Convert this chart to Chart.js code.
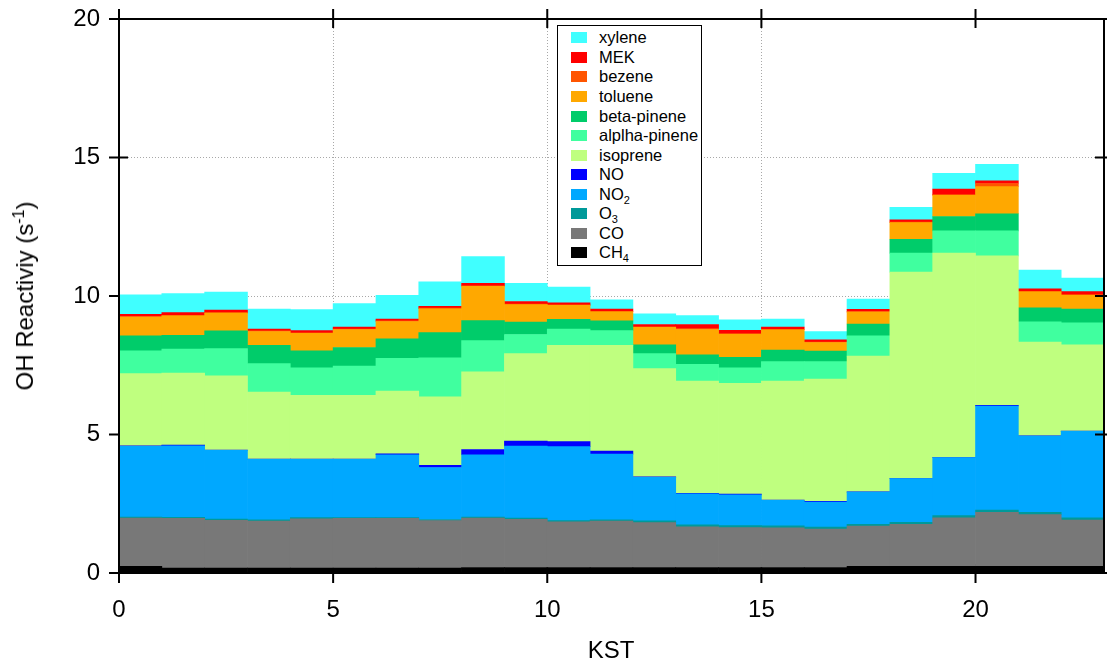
<!DOCTYPE html>
<html><head><meta charset="utf-8">
<script src="https://cdn.jsdelivr.net/npm/chart.js@4.4.1/dist/chart.umd.min.js"></script>
<style>
html,body{margin:0;padding:0;background:#fff;}
#wrap{position:relative;width:1107px;height:665px;font-family:"Liberation Sans",Arial,sans-serif;color:#000;overflow:hidden;}
#c{position:absolute;left:0;top:0;}
#legend{position:absolute;left:557px;top:25px;width:145px;height:241px;border:1px solid #000;background:#fff;box-sizing:border-box;}
.row{position:absolute;left:0;height:20px;font-size:16.5px;line-height:20px;white-space:nowrap;}
.sw{position:absolute;left:13px;top:5px;width:16px;height:11px;}
.lb{position:absolute;left:41px;top:0;}
sub{font-size:11px;vertical-align:-4px;line-height:0;}
sup{font-size:16px;vertical-align:9px;line-height:0;}
#ytitle{position:absolute;left:25px;top:296px;transform:translate(-50%,-50%) rotate(-90deg);font-size:24px;white-space:nowrap;}
#xtitle{position:absolute;left:611px;top:650px;transform:translate(-50%,-50%);font-size:24px;white-space:nowrap;}
</style>
</head><body>
<div id="wrap">
<canvas id="c" width="1107" height="665"></canvas>
<div id="legend"></div>
<div id="ytitle">OH Reactiviy (s<sup>-1</sup>)</div>
<div id="xtitle">KST</div>
</div>
<script>
// ---- data ----
const hours = [0,1,2,3,4,5,6,7,8,9,10,11,12,13,14,15,16,17,18,19,20,21,22];
const xTickValues = [0,5,10,15,20];
const yTickValues = [0,5,10,15,20];

const CH4      = [0.24,0.18,0.18,0.18,0.18,0.18,0.18,0.18,0.20,0.20,0.20,0.20,0.20,0.20,0.20,0.20,0.20,0.24,0.24,0.24,0.24,0.24,0.24];
const CO       = [1.74,1.79,1.72,1.69,1.78,1.79,1.79,1.71,1.78,1.74,1.65,1.67,1.62,1.47,1.44,1.43,1.39,1.45,1.52,1.75,1.95,1.87,1.67];
const O3       = [0.04,0.04,0.05,0.05,0.04,0.03,0.03,0.04,0.04,0.04,0.04,0.05,0.06,0.07,0.07,0.07,0.07,0.07,0.07,0.08,0.08,0.08,0.08];
const NO2      = [2.55,2.58,2.48,2.18,2.10,2.10,2.27,1.88,2.25,2.60,2.67,2.37,1.57,1.12,1.11,0.92,0.90,1.16,1.58,2.10,3.76,2.75,3.12];
const NO       = [0.02,0.03,0.01,0.01,0.01,0.01,0.03,0.08,0.19,0.18,0.18,0.11,0.02,0.02,0.03,0.01,0.03,0.01,0.01,0.01,0.02,0.01,0.01];
const isoprene = [2.61,2.60,2.68,2.42,2.30,2.30,2.27,2.47,2.80,3.16,3.48,3.82,3.91,4.05,4.00,4.30,4.41,4.90,7.44,7.37,5.40,3.39,3.12];
const alphaPinene = [0.82,0.86,0.98,1.03,1.00,1.06,1.18,1.41,1.13,0.69,0.59,0.53,0.54,0.60,0.56,0.70,0.63,0.73,0.69,0.80,0.90,0.73,0.79];
const betaPinene  = [0.54,0.50,0.64,0.66,0.61,0.67,0.70,0.91,0.72,0.45,0.35,0.35,0.32,0.35,0.38,0.42,0.38,0.43,0.50,0.52,0.62,0.50,0.50];
const toluene  = [0.68,0.70,0.64,0.50,0.63,0.65,0.63,0.86,1.24,0.63,0.50,0.33,0.63,0.91,0.83,0.73,0.31,0.43,0.60,0.76,0.98,0.58,0.49];
const bezene   = [0.02,0.02,0.02,0.02,0.02,0.02,0.02,0.02,0.02,0.02,0.02,0.02,0.02,0.03,0.02,0.02,0.02,0.02,0.02,0.03,0.11,0.02,0.03];
const MEK      = [0.08,0.10,0.09,0.07,0.08,0.07,0.07,0.07,0.09,0.09,0.07,0.08,0.08,0.15,0.12,0.08,0.08,0.08,0.08,0.20,0.10,0.09,0.11];
const xylene   = [0.70,0.69,0.65,0.72,0.76,0.85,0.85,0.88,0.96,0.66,0.57,0.33,0.39,0.32,0.38,0.29,0.30,0.37,0.45,0.57,0.59,0.68,0.49];

// bottom-to-top stacking order
const seriesNames  = ['CH4','CO','O3','NO2','NO','isoprene','alplha-pinene','beta-pinene','toluene','bezene','MEK','xylene'];
const seriesValues = [CH4, CO, O3, NO2, NO, isoprene, alphaPinene, betaPinene, toluene, bezene, MEK, xylene];
const seriesColors = ['#000000','#787878','#009999','#00A8FF','#0000FF','#BFFF7F','#40FF9F','#00CC6A','#FFA800','#FF5500','#FF0000','#40FFFF'];

const FONT = '"Liberation Sans", Arial, sans-serif';

const framePlugin = {
  id: 'frame',
  beforeDatasetsDraw(chart) {
    const {ctx, chartArea: a, scales: {x, y}} = chart;
    ctx.save();
    ctx.strokeStyle = '#000'; ctx.lineWidth = 2;
    ctx.beginPath();
    yTickValues.forEach(v => { const p = y.getPixelForValue(v); ctx.moveTo(a.left, p); ctx.lineTo(a.left + 9, p); });
    xTickValues.forEach(v => { const p = x.getPixelForValue(v); ctx.moveTo(p, a.bottom); ctx.lineTo(p, a.bottom - 9); });
    ctx.stroke();
    ctx.restore();
  },
  afterDatasetsDraw(chart) {
    const {ctx, chartArea: a, scales: {x, y}} = chart;
    ctx.save();
    ctx.strokeStyle = '#000'; ctx.lineWidth = 2;
    ctx.strokeRect(a.left, a.top, a.right - a.left, a.bottom - a.top);
    ctx.beginPath();
    yTickValues.forEach(v => {
      const p = y.getPixelForValue(v);
      ctx.moveTo(a.left - 10, p); ctx.lineTo(a.left, p);
      ctx.moveTo(a.right - 9, p); ctx.lineTo(a.right + 4, p);
    });
    xTickValues.forEach(v => {
      const p = x.getPixelForValue(v);
      ctx.moveTo(p, a.bottom); ctx.lineTo(p, a.bottom + 10);
      ctx.moveTo(p, a.top - 10); ctx.lineTo(p, a.top + 9);
    });
    ctx.stroke();
    ctx.restore();
  }
};

const gridColor = ctx => (ctx.tick && (ctx.tick.value === 0 || ctx.tick.value === 20)) ? 'rgba(0,0,0,0)' : '#a8a8a8';
const zeroPad = s => { s.paddingTop = 0; s.paddingBottom = 0; s.paddingLeft = 0; s.paddingRight = 0; };

const chart = new Chart(document.getElementById('c'), {
  type: 'bar',
  data: {
    labels: hours.map(h => h + 0.5),
    datasets: seriesNames.map((n, i) => ({
      label: n,
      data: seriesValues[i],
      backgroundColor: seriesColors[i],
      borderWidth: 0,
      barPercentage: 1,
      categoryPercentage: 1,
      stack: 's'
    }))
  },
  options: {
    responsive: false,
    animation: false,
    layout: {padding: {left: 0, right: 3, top: 19, bottom: 0}},
    plugins: {legend: {display: false}, tooltip: {enabled: false}},
    scales: {
      x: {
        type: 'linear', stacked: true, min: 0, max: 23, offset: false,
        afterBuildTicks: s => { s.ticks = xTickValues.map(v => ({value: v})); },
        afterFit: s => { s.height = 92; zeroPad(s); },
        grid: {offset: false, drawTicks: false, color: gridColor, lineWidth: 1},
        border: {display: false, dash: [1, 2]},
        ticks: {padding: 23, color: '#000', font: {family: FONT, size: 24}, autoSkip: false, maxRotation: 0}
      },
      y: {
        stacked: true, min: 0, max: 20,
        afterBuildTicks: s => { s.ticks = yTickValues.map(v => ({value: v})); },
        afterFit: s => { s.width = 119; zeroPad(s); },
        grid: {drawTicks: false, color: gridColor, lineWidth: 1},
        border: {display: false, dash: [1, 2]},
        ticks: {padding: 19, color: '#000', font: {family: FONT, size: 24}}
      }
    }
  },
  plugins: [framePlugin]
});

// HTML legend (top-to-bottom = reverse of stacking order)
const legend = document.getElementById('legend');
const fmt = s => s.replace(/(\d)/g, '<sub>$1</sub>');
chart.data.datasets.slice().reverse().forEach((ds, i) => {
  const row = document.createElement('div');
  row.className = 'row';
  row.style.top = (1.3 + i * 19.55) + 'px';
  row.innerHTML = '<span class="sw" style="background:' + ds.backgroundColor + '"></span><span class="lb">' + fmt(ds.label) + '</span>';
  legend.appendChild(row);
});
</script>
</body></html>
